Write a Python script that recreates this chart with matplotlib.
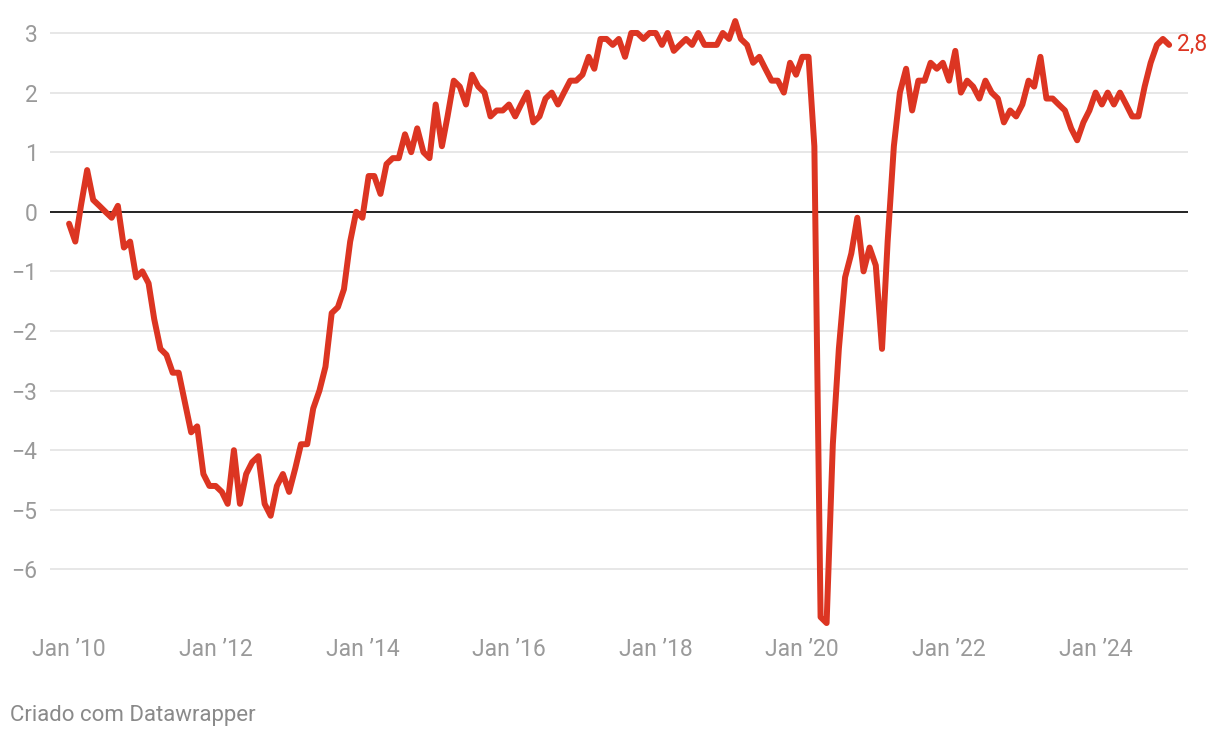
import pandas as pd
import matplotlib.pyplot as plt
from datetime import datetime

plt.rcParams['font.family'] = ['Roboto', 'DejaVu Sans']

# Monthly values, Jan 2010 .. Jan 2025
values = [
    -0.2, -0.5, 0.1, 0.7, 0.2, 0.1, 0.0, -0.1, 0.1, -0.6, -0.5, -1.1,   # 2010
    -1.0, -1.2, -1.8, -2.3, -2.4, -2.7, -2.7, -3.2, -3.7, -3.6, -4.4, -4.6,  # 2011
    -4.6, -4.7, -4.9, -4.0, -4.9, -4.4, -4.2, -4.1, -4.9, -5.1, -4.6, -4.4,  # 2012
    -4.7, -4.3, -3.9, -3.9, -3.3, -3.0, -2.6, -1.7, -1.6, -1.3, -0.5, 0.0,   # 2013
    -0.1, 0.6, 0.6, 0.3, 0.8, 0.9, 0.9, 1.3, 1.0, 1.4, 1.0, 0.9,            # 2014
    1.8, 1.1, 1.6, 2.2, 2.1, 1.8, 2.3, 2.1, 2.0, 1.6, 1.7, 1.7,             # 2015
    1.8, 1.6, 1.8, 2.0, 1.5, 1.6, 1.9, 2.0, 1.8, 2.0, 2.2, 2.2,             # 2016
    2.3, 2.6, 2.4, 2.9, 2.9, 2.8, 2.9, 2.6, 3.0, 3.0, 2.9, 3.0,             # 2017
    3.0, 2.8, 3.0, 2.7, 2.8, 2.9, 2.8, 3.0, 2.8, 2.8, 2.8, 3.0,             # 2018
    2.9, 3.2, 2.9, 2.8, 2.5, 2.6, 2.4, 2.2, 2.2, 2.0, 2.5, 2.3,             # 2019
    2.6, 2.6, 1.1, -6.8, -6.9, -3.9, -2.3, -1.1, -0.7, -0.1, -1.0, -0.6,    # 2020
    -0.9, -2.3, -0.5, 1.1, 2.0, 2.4, 1.7, 2.2, 2.2, 2.5, 2.4, 2.5,          # 2021
    2.2, 2.7, 2.0, 2.2, 2.1, 1.9, 2.2, 2.0, 1.9, 1.5, 1.7, 1.6,             # 2022
    1.8, 2.2, 2.1, 2.6, 1.9, 1.9, 1.8, 1.7, 1.4, 1.2, 1.5, 1.7,             # 2023
    2.0, 1.8, 2.0, 1.8, 2.0, 1.8, 1.6, 1.6, 2.1, 2.5, 2.8, 2.9,             # 2024
    2.8,                                                                    # 2025
]
dates = pd.date_range('2010-01-01', periods=len(values), freq='MS')

tick_years = [2010, 2012, 2014, 2016, 2018, 2020, 2022, 2024]
tick_labels = ["Jan \u201910", "Jan \u201912", "Jan \u201914", "Jan \u201916",
               "Jan \u201918", "Jan \u201920", "Jan \u201922", "Jan \u201924"]
y_ticks = [3, 2, 1, 0, -1, -2, -3, -4, -5, -6]

red = '#dc3522'
grey = '#9a9a9a'

fig = plt.figure(figsize=(12.2, 7.38), dpi=100)
ax = fig.add_axes([50 / 1220, 0.1477, 1138 / 1220, 0.9755 - 0.1477])

# grid lines
for y in y_ticks:
    if y == 0:
        ax.axhline(0, color='#111111', lw=1.3, zorder=2)
    else:
        ax.axhline(y, color='#e3e3e3', lw=1.2, zorder=1)

ax.plot(dates, values, color=red, lw=4.3, solid_joinstyle='round',
        solid_capstyle='round', zorder=3)

# end label
ax.annotate(f"{values[-1]:.1f}".replace('.', ','), (dates[-1], values[-1]),
            xytext=(6, 0), textcoords='offset points', ha='left', va='center',
            color=red, fontsize=16.5)

ax.set_ylim(-7.0, 3.25)
ax.set_xlim(datetime(2009, 9, 28), datetime(2025, 4, 5))

ax.set_yticks(y_ticks)
ax.set_yticklabels([str(v).replace('-', '\u2212') for v in y_ticks])
ax.set_xticks([datetime(y, 1, 1) for y in tick_years])
ax.set_xticklabels(tick_labels)
ax.tick_params(axis='both', length=0, labelsize=16.5, labelcolor=grey)
ax.tick_params(axis='y', pad=9)
ax.tick_params(axis='x', pad=6.5)

for s in ax.spines.values():
    s.set_visible(False)

fig.text(10 / 1220, 1 - 715 / 738, "Criado com Datawrapper", color='#8a8a8a',
         fontsize=16, ha='left', va='center')

fig.savefig('out.png', dpi=100)
